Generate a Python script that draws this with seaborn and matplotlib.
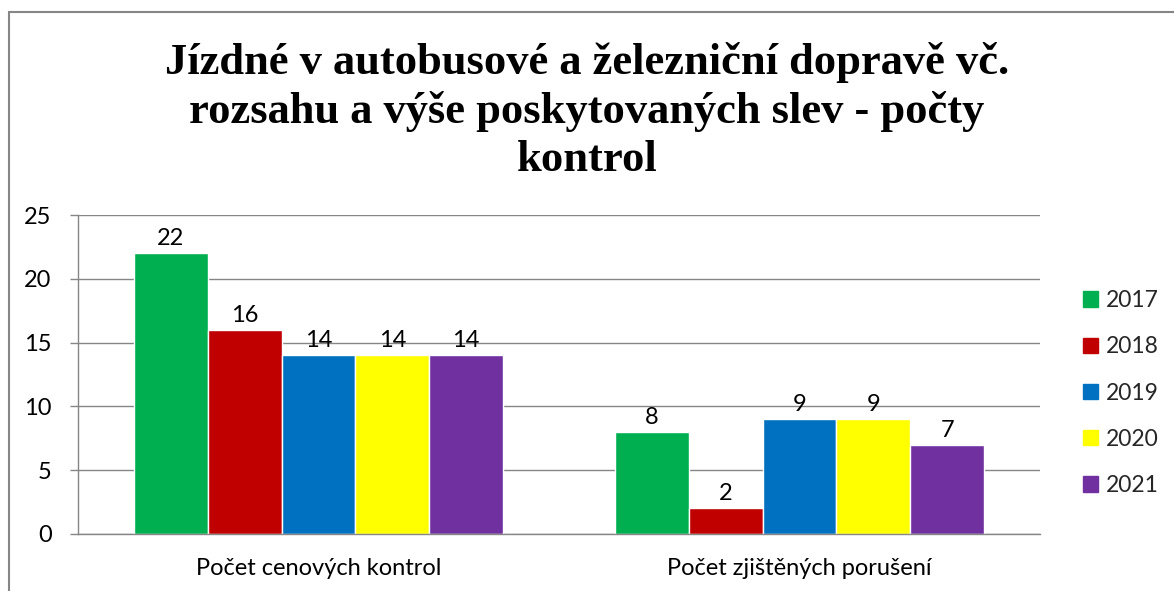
import matplotlib
matplotlib.use("Agg")
import matplotlib.pyplot as plt
import seaborn as sns
import pandas as pd
from matplotlib.patches import Rectangle

categories = ["Počet cenových kontrol", "Počet zjištěných porušení"]
years = ["2017", "2018", "2019", "2020", "2021"]
values = {
    "2017": [22, 8],
    "2018": [16, 2],
    "2019": [14, 9],
    "2020": [14, 9],
    "2021": [14, 7],
}
colors = ["#00B050", "#C00000", "#0070C0", "#FFFF00", "#7030A0"]
title = "Jízdné v autobusové a železniční dopravě vč.\nrozsahu a výše poskytovaných slev - počty\nkontrol"

rows = []
for y in years:
    for c, v in zip(categories, values[y]):
        rows.append({"kategorie": c, "rok": y, "hodnota": v})
df = pd.DataFrame(rows)

sns.set_style("white")
plt.rcParams["font.family"] = ["Lato", "DejaVu Sans"]

fig = plt.figure(figsize=(11.74, 5.91), dpi=100)
ax = fig.add_axes([78 / 1174, 1 - 534 / 591, 962 / 1174, 319 / 591])

sns.barplot(data=df, x="kategorie", y="hodnota", hue="rok", order=categories,
            hue_order=years, palette=colors, width=0.767, gap=0,
            saturation=1, ax=ax, legend=False)

for cont in ax.containers:
    ax.bar_label(cont, fontsize=17, padding=3, color="black")

ax.set_xlim(-0.5, 1.5)
ax.set_ylim(0, 25)
ax.set_yticks([0, 5, 10, 15, 20, 25])
ax.yaxis.grid(True, color="#868686", linewidth=1)
ax.set_axisbelow(True)
ax.set_xlabel("")
ax.set_ylabel("")
ax.set_xticks([-0.5, 0.5, 1.5], minor=True)
ax.tick_params(axis="x", which="major", length=0, labelsize=17, pad=17, labelcolor="black")
ax.tick_params(axis="x", which="minor", length=6.5, color="#868686", width=1)
ax.tick_params(axis="y", length=6, color="#868686", width=1, labelsize=17, pad=13,
               left=True, labelcolor="black")
for s in ["top", "right"]:
    ax.spines[s].set_visible(False)
for s in ["left", "bottom"]:
    ax.spines[s].set_color("#868686")
    ax.spines[s].set_linewidth(1)

handles = [Rectangle((0, 0), 1, 1, color=c) for c in colors]
fig.legend(handles, years, loc="center left", bbox_to_anchor=(1083 / 1174, 1 - 393 / 591),
           frameon=False, fontsize=16.5, handlelength=0.66, handleheight=0.66,
           labelspacing=1.1, handletextpad=0.35, borderpad=0, borderaxespad=0)

fig.text(0.5, 1 - 111 / 591, title, ha="center", va="center", fontsize=32,
         fontweight="bold", family=["Liberation Serif", "DejaVu Serif"],
         linespacing=1.25, color="black")

fig.patches.append(Rectangle((9 / 1174, -0.1), 1.2, 1 - 12 / 591 + 0.1,
                             transform=fig.transFigure, fill=False,
                             edgecolor="#868686", linewidth=1.5))

fig.savefig("out.png", dpi=100, facecolor="white")
